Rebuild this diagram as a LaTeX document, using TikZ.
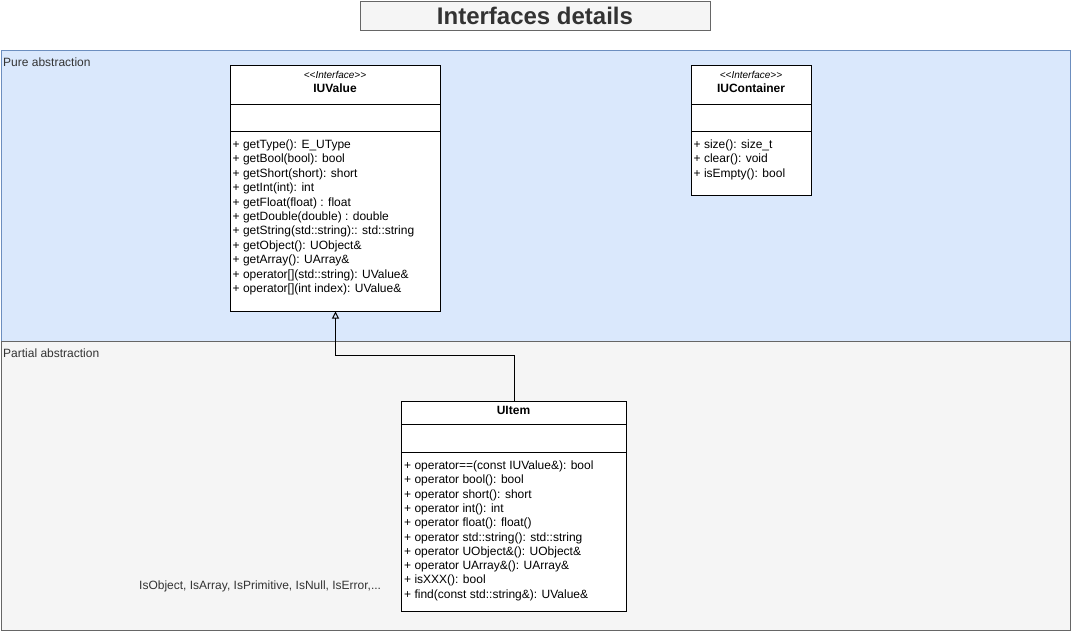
\documentclass[tikz,border=0pt]{standalone}
\usepackage{fontspec}
\setmainfont{Liberation Sans}
\usetikzlibrary{arrows.meta}
\definecolor{bluefill}{HTML}{DAE8FC}
\definecolor{bluedraw}{HTML}{6C8EBF}
\definecolor{grayfill}{HTML}{F5F5F5}
\definecolor{graydraw}{HTML}{666666}
\definecolor{darktext}{HTML}{333333}
\begin{document}
\begin{tikzpicture}[x=1pt,y=-1pt,
  panelblue/.style={draw=bluedraw,fill=bluefill,line width=1pt,rectangle,inner sep=0pt,anchor=north west},
  panelgray/.style={draw=graydraw,fill=grayfill,line width=1pt,rectangle,inner sep=0pt,anchor=north west},
  titlebox/.style={draw=graydraw,fill=grayfill,line width=1pt,rectangle,inner sep=0pt,anchor=north west},
  classbox/.style={draw=black,fill=white,line width=1pt,rectangle,inner sep=0pt,anchor=north west},
  divider/.style={draw=black,line width=1pt},
  member/.style={inner sep=0pt,anchor=base west,font=\fontsize{12}{14}\selectfont},
  stereo/.style={inner sep=0pt,anchor=base,font=\fontsize{10}{12}\selectfont\itshape},
  cname/.style={inner sep=0pt,anchor=base,font=\fontsize{12}{14}\selectfont\bfseries},
  paneltext/.style={inner sep=0pt,anchor=base west,text=darktext,font=\fontsize{12}{14}\selectfont},
  conn/.style={draw=black,line width=1pt},
]
\useasboundingbox (0,0) rectangle (1071,631);

% title
\node[titlebox,minimum width=350pt,minimum height=29pt] (titlebx) at (360,1.5) {};
\node[inner sep=0pt,anchor=base,text=darktext,font=\fontsize{24}{28}\selectfont\bfseries] (title) at (535,25) {Interfaces details};

% panels
\node[panelblue,minimum width=1069.5pt,minimum height=290pt] (pure) at (0.5,50.5) {};
\node[panelgray,minimum width=1069.5pt,minimum height=289pt] (partial) at (0.5,340.5) {};
\node[paneltext] (purelbl) at (3,67) {Pure abstraction};
\node[paneltext] (partlbl) at (3,357) {Partial abstraction};

% IUValue
\node[classbox,minimum width=210pt,minimum height=245pt] (iuvalue) at (230,65.5) {};
\draw[divider] (230,104.5) -- (440,104.5);
\draw[divider] (230,131.5) -- (440,131.5);
\node[stereo] (iuvst) at (335,78.5) {<{}<Interface>{}>};
\node[cname] (iuvname) at (335,93) {IUValue};
\foreach \t [count=\i] in {{+ getType(): E\_UType},{+ getBool(bool): bool},{+ getShort(short): short},{+ getInt(int): int},{+ getFloat(float) : float},{+ getDouble(double) : double},{+ getString(std::string):: std::string},{+ getObject(): UObject\&},{+ getArray(): UArray\&},{+ operator[](std::string): UValue\&},{+ operator[](int index): UValue\&}}
  \node[member] (iuvm\i) at (232.5,148.3+14.45*\i-14.45) {\t};

% IUContainer
\node[classbox,minimum width=120pt,minimum height=130pt] (iucont) at (691,65.5) {};
\draw[divider] (691,104.5) -- (811,104.5);
\draw[divider] (691,131.5) -- (811,131.5);
\node[stereo] (iucst) at (751,78.5) {<{}<Interface>{}>};
\node[cname] (iucname) at (751,93) {IUContainer};
\foreach \t [count=\i] in {{+ size(): size\_t},{+ clear(): void},{+ isEmpty(): bool}}
  \node[member] (iucm\i) at (693.5,148.3+14.45*\i-14.45) {\t};

% UItem
\node[classbox,minimum width=225pt,minimum height=210pt] (uitem) at (401,400.5) {};
\draw[divider] (401,424.5) -- (626,424.5);
\draw[divider] (401,452.5) -- (626,452.5);
\node[cname] (uiname) at (513.5,414.5) {UItem};
\foreach \t [count=\i] in {{+ operator==(const IUValue\&): bool},{+ operator bool(): bool},{+ operator short(): short},{+ operator int(): int},{+ operator float(): float()},{+ operator std::string(): std::string},{+ operator UObject\&(): UObject\&},{+ operator UArray\&(): UArray\&},{+ isXXX(): bool},{+ find(const std::string\&): UValue\&}}
  \node[member] (uim\i) at (404,469.5+14.3*\i-14.3) {\t};

\node[paneltext] (islbl) at (139,589) {IsObject, IsArray, IsPrimitive, IsNull, IsError,...};

% inheritance
\draw[conn,-{Triangle[open,length=7pt,width=7pt]}] (uitem.north) -- ++(0,-45) -| (iuvalue.south);
\end{tikzpicture}
\end{document}
